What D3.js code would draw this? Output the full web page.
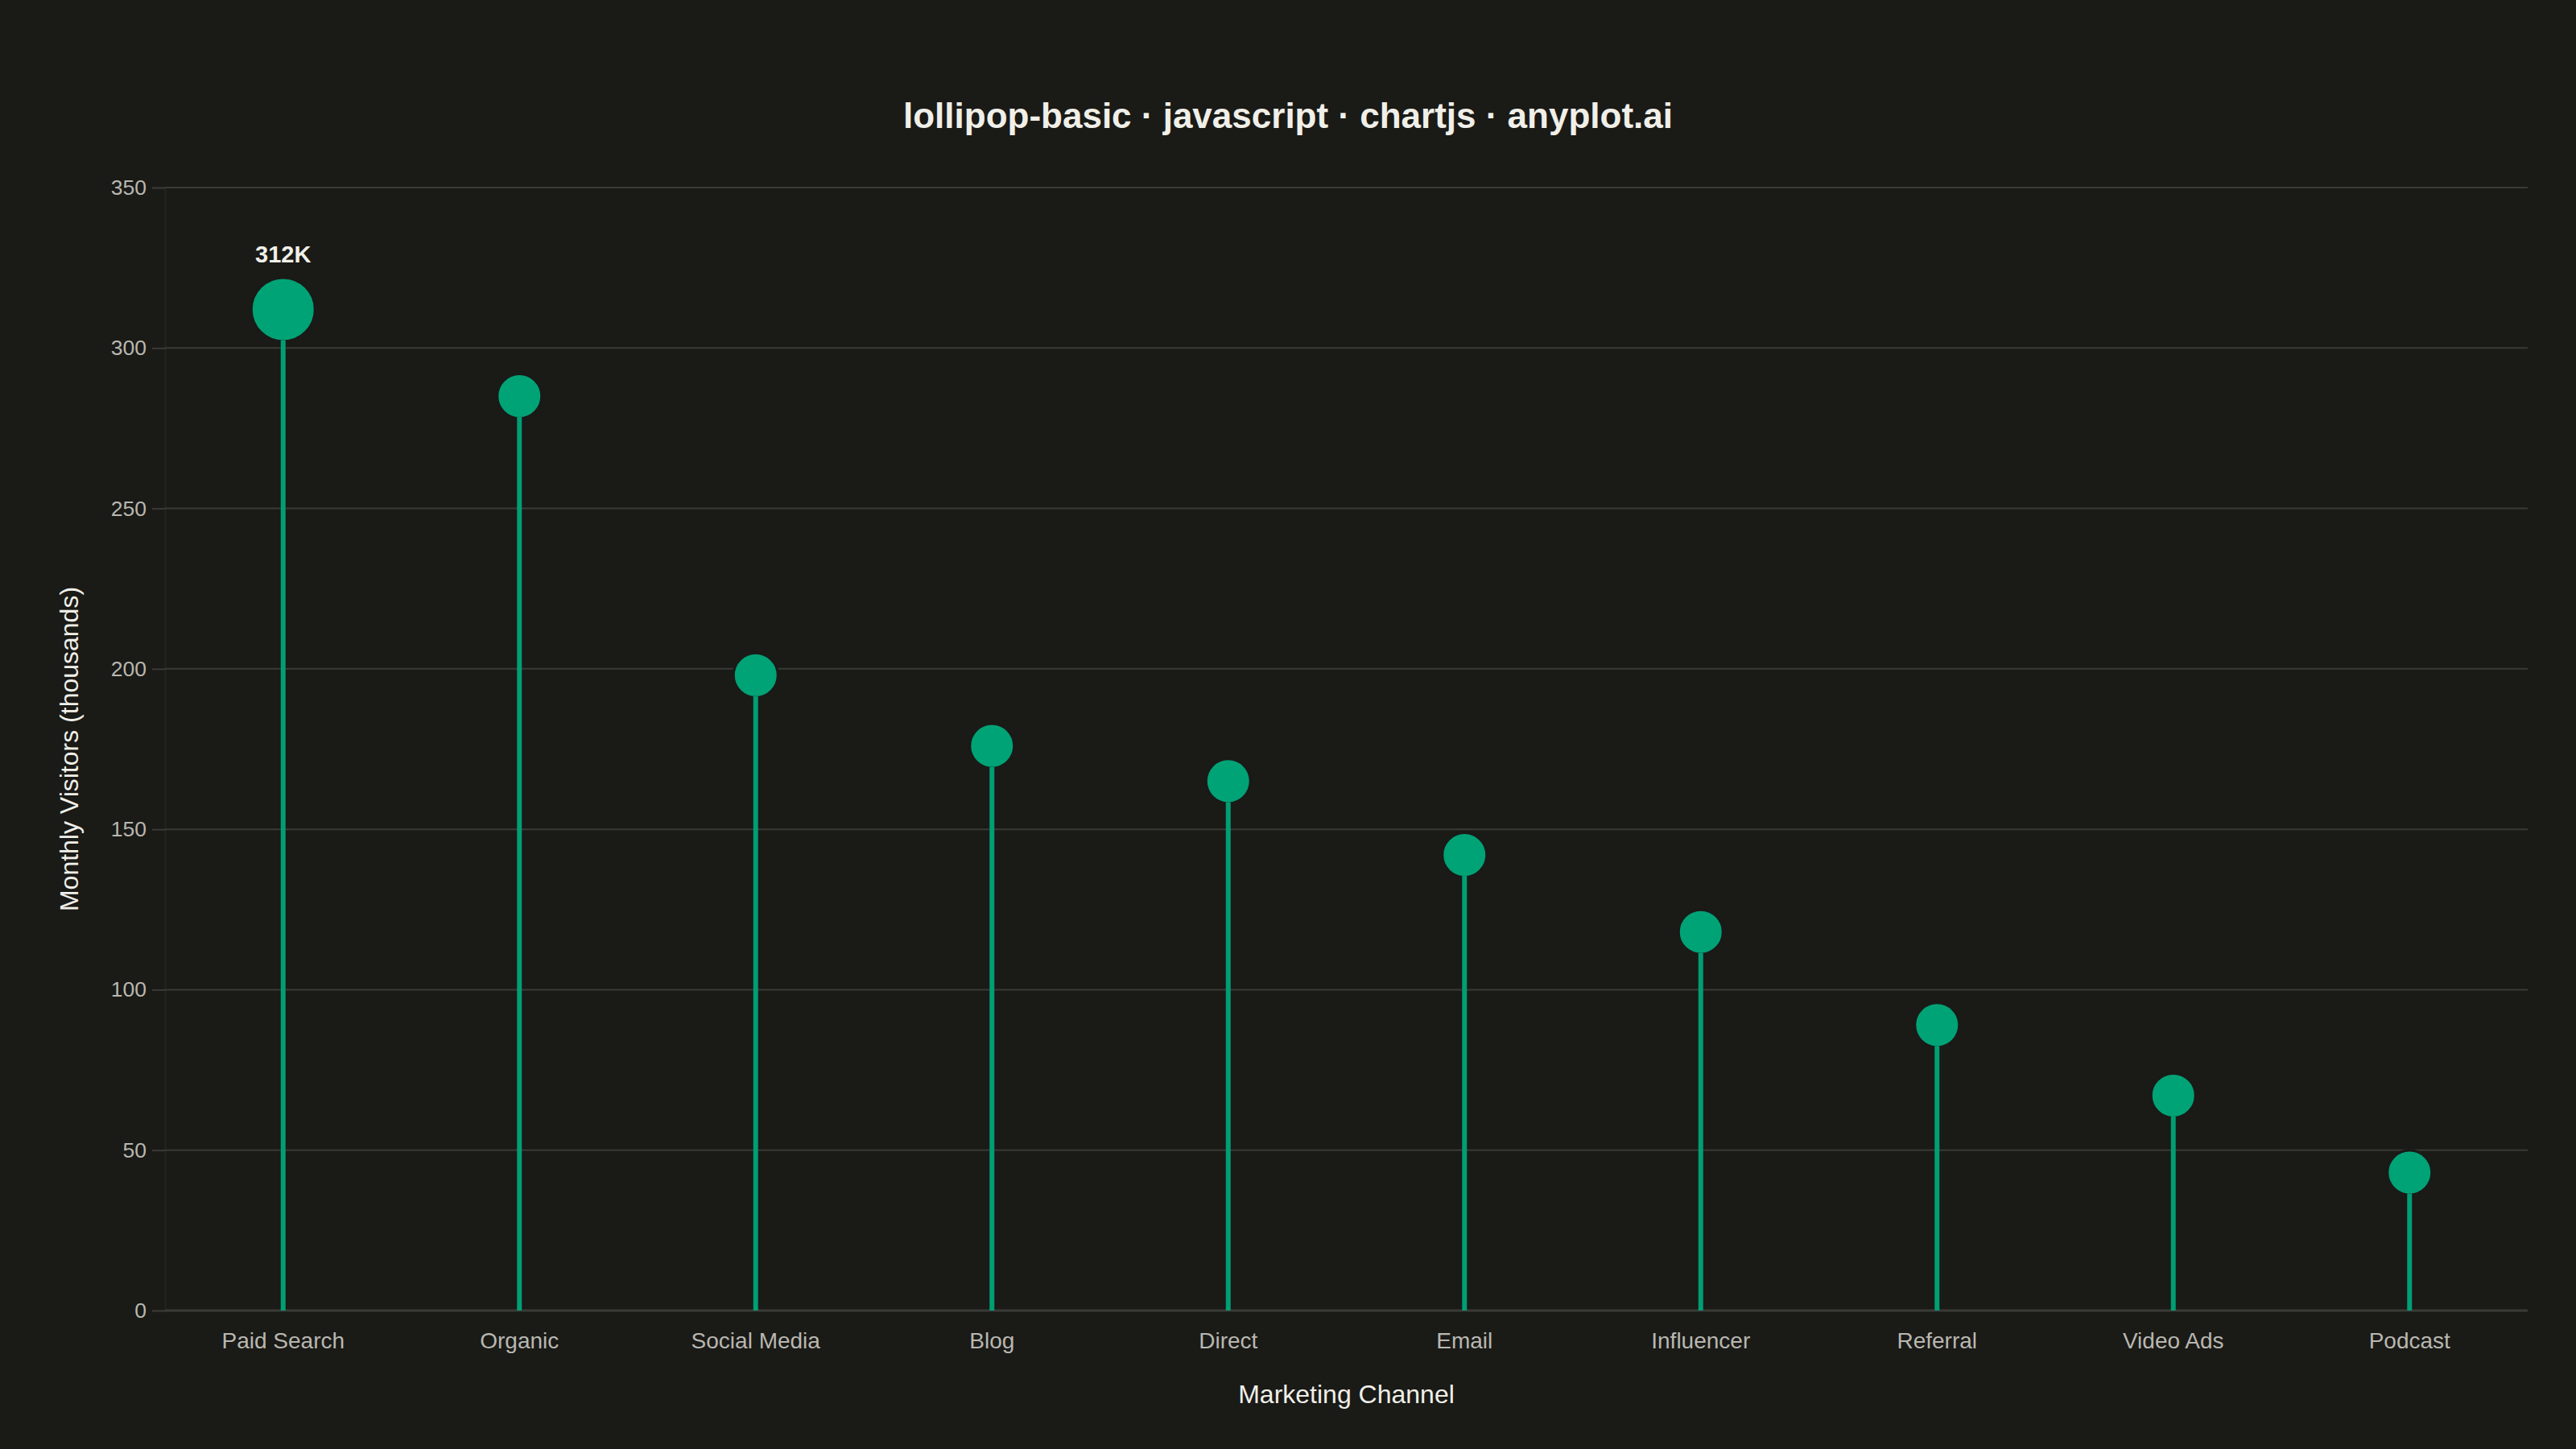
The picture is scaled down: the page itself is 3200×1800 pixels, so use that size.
<!DOCTYPE html>
<html>
<head>
<meta charset="utf-8">
<script src="https://cdn.jsdelivr.net/npm/d3@7/dist/d3.min.js"></script>
<style>
  html, body { margin: 0; padding: 0; background: #1A1A17; }
  svg { display: block; }
</style>
</head>
<body>
<svg id="chart" width="3200" height="1800"></svg>
<script>
// ---- data ----
const categories = ["Paid Search", "Organic", "Social Media", "Blog", "Direct", "Email", "Influencer", "Referral", "Video Ads", "Podcast"];
const visitors = [312, 285, 198, 176, 165, 142, 118, 89, 67, 43];
const yTicks = [0, 50, 100, 150, 200, 250, 300, 350];
const titleText = "lollipop-basic · javascript · chartjs · anyplot.ai";
const xTitle = "Marketing Channel";
const yTitle = "Monthly Visitors (thousands)";
const highlightLabel = "312K";

(function () {
// ---- layout ----
const W = 3200, H = 1800;
const pLeft = 205, pRight = 3140, pTop = 233, pBottom = 1628;
const bg = "#1A1A17", green = "#009E73", grid = "#3A3A36";
const tickColor = "#B8B7B0", textColor = "#F0EFE8";
const font = "'Liberation Sans', Arial, Helvetica, sans-serif";

const svg = d3.select("#chart");
svg.append("rect").attr("width", W).attr("height", H).attr("fill", bg);

const x = d3.scaleBand().domain(categories).range([pLeft, pRight]).padding(0);
const y = d3.scaleLinear().domain([0, 350]).range([pBottom, pTop]);

// y axis
const yAxis = d3.axisLeft(y).tickValues(yTicks).tickSize(16).tickPadding(7);
const gy = svg.append("g").attr("transform", `translate(${pLeft},0)`).call(yAxis);
gy.select(".domain").attr("stroke", "#24241F").attr("stroke-width", 2);
gy.selectAll(".tick line").attr("stroke", grid).attr("stroke-width", 2);
gy.selectAll(".tick text").attr("fill", tickColor).attr("font-family", font).attr("font-size", 26.5);

// gridlines
svg.append("g").selectAll("line").data(yTicks).join("line")
  .attr("x1", pLeft).attr("x2", pRight)
  .attr("y1", d => y(d)).attr("y2", d => y(d))
  .attr("stroke", grid).attr("stroke-width", d => d === 0 ? 3 : 2);

// x axis labels
const xAxis = d3.axisBottom(x).tickSize(0).tickPadding(27);
const gx = svg.append("g").attr("transform", `translate(0,${pBottom})`).call(xAxis);
gx.select(".domain").remove();
gx.selectAll(".tick text").attr("fill", tickColor).attr("font-family", font).attr("font-size", 28);

// lollipops
const maxVal = d3.max(visitors);
const rNormal = 26, rHigh = 38;
const data = categories.map((c, i) => ({ c, v: visitors[i], r: visitors[i] === maxVal ? rHigh : rNormal }));
const cx = d => x(d.c) + x.bandwidth() / 2;

svg.append("g").selectAll("circle").data(data).join("circle")
  .attr("cx", cx).attr("cy", d => y(d.v))
  .attr("r", d => d.r + 1.5)
  .attr("fill", "#00A376")
  .attr("stroke", bg).attr("stroke-width", 3);

svg.append("g").selectAll("line").data(data).join("line")
  .attr("x1", cx).attr("x2", cx)
  .attr("y1", y(0)).attr("y2", d => y(d.v) + d.r)
  .attr("stroke", green).attr("stroke-width", 6);

// highlight label
const top1 = data.find(d => d.v === maxVal);
svg.append("text")
  .attr("x", cx(top1)).attr("y", y(top1.v) - top1.r - 20)
  .attr("text-anchor", "middle")
  .attr("font-family", font).attr("font-weight", "bold").attr("font-size", 29)
  .attr("fill", textColor).text(highlightLabel);

// title
svg.append("text")
  .attr("x", W / 2).attr("y", 159)
  .attr("text-anchor", "middle")
  .attr("font-family", font).attr("font-weight", "bold").attr("font-size", 44)
  .attr("fill", textColor).text(titleText);

// axis titles
svg.append("text")
  .attr("x", (pLeft + pRight) / 2).attr("y", 1743)
  .attr("text-anchor", "middle")
  .attr("font-family", font).attr("font-size", 32)
  .attr("fill", textColor).text(xTitle);

svg.append("text")
  .attr("transform", `translate(97,${(pTop + pBottom) / 2}) rotate(-90)`)
  .attr("text-anchor", "middle")
  .attr("font-family", font).attr("font-size", 32)
  .attr("fill", textColor).text(yTitle);
})();
</script>
</body>
</html>
